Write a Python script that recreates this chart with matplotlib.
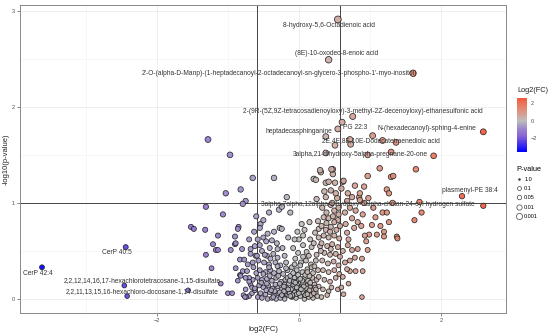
import numpy as np
import matplotlib
matplotlib.use('Agg')
import matplotlib.pyplot as plt
from matplotlib.colors import LinearSegmentedColormap, Normalize
from matplotlib.lines import Line2D

plt.rcParams['font.family'] = ['Liberation Sans', 'DejaVu Sans']

# %% data: log2 fold change and -log10(p) per group
left_fc = [-3.62, -2.44, -2.46, -2.42, -1.56, -1.28, -0.97, -0.65, -1.03, -0.82, -0.75, -0.79, -1.31,
           -1.07, -1.52, -1.48, -1.32, -0.85, -0.86, -1.14, -0.9, -1.21, -1.17, -1.14, -1.31, -0.96,
           -0.9, -0.8, -1.23, -0.89, -0.83, -0.77, -0.79, -0.83, -1.1, -0.86, -0.73, -1.0, -0.94, -0.7,
           -0.66, -0.62, -0.75, -0.68, -0.65, -0.7, -0.72, -0.65, -0.68, -0.62, -0.7, -0.63, -0.74,
           -0.78, -0.66, -0.6, -0.64, -0.61, -0.89, -0.68, -0.59, -0.82, -0.75, -0.7, -0.62, -0.76]
left_nlp = [0.33, 0.54, 0.14, 0.03, 0.09, 1.66, 1.5, 1.26, 1.1, 1.14, 1.02, 0.99, 0.96,
            0.88, 0.75, 0.73, 0.72, 0.75, 0.73, 0.66, 0.65, 0.57, 0.51, 0.51, 0.46, 0.51,
            0.57, 0.52, 0.32, 0.32, 0.41, 0.41, 0.29, 0.25, 0.16, 0.19, 0.29, 0.06, 0.06, 0.03,
            0.06, 0.09, 0.1, 0.15, 0.2, 0.22, 0.36, 0.38, 0.47, 0.55, 0.62, 0.7, 0.02,
            0.04, 0.12, 0.27, 0.33, 0.45, 0.58, 0.52, 0.45, 0.24, 0.22, 0.18, 0.11, 0.02]

core_fc = [-0.35, -0.17, -0.28, -0.24, -0.54, -0.27, -0.5, -0.55, -0.24, -0.5, -0.46, -0.38, -0.31,
           -0.41, -0.23, -0.55, -0.58, -0.52, -0.45, -0.36, -0.3, -0.2, -0.57, -0.49, -0.42, -0.33,
           -0.26, -0.18, -0.55, -0.47, -0.4, -0.35, -0.28, -0.22, -0.16, -0.58, -0.52, -0.45, -0.38,
           -0.32, -0.25, -0.19, -0.56, -0.5, -0.43, -0.37, -0.3, -0.24, -0.18, -0.54, -0.47, -0.41,
           -0.35, -0.29, -0.23, -0.17, -0.58, -0.52, -0.44, -0.38, -0.32, -0.26, -0.2, -0.44, -0.35,
           -0.6, -0.42, -0.15, -0.3, -0.48, -0.4, -0.27, -0.21, -0.34, -0.46, -0.53, -0.41, -0.29,
           -0.2, -0.16,
           0.04, 0.15, 0.27, 0.08, 0.23, 0.21, 0.25, -0.08, -0.01, 0.06, 0.11, 0.18, 0.25, -0.12,
           0.0, -0.05, 0.03, 0.1, 0.17, 0.24, -0.1, -0.03, 0.05, 0.12, 0.2, 0.27, -0.12, -0.06, 0.0,
           0.07, 0.13, 0.19, 0.25, -0.14, -0.08, -0.02, 0.04, 0.1, 0.16, 0.22, 0.28, -0.12, -0.06,
           0.0, 0.06, 0.12, 0.18, 0.24, -0.1, -0.04, 0.02, 0.08, 0.14, 0.2, 0.26, -0.13, -0.07,
           -0.01, 0.09, 0.15, 0.03, 0.21, -0.09, 0.11, 0.06, -0.03, 0.16, 0.28, 0.02, 0.14, 0.21,
           0.28, -0.06, 0.06, 0.16, -0.02, 0.3, 0.28, -0.15, -0.11, 0.01, 0.09, 0.19, -0.05, 0.13,
           0.23, -0.09, 0.07, 0.17, -0.13, 0.05,
           -0.45, -0.39, -0.33, -0.27, -0.21, -0.15, -0.09, -0.03, 0.03, 0.09, 0.15, 0.21, -0.36,
           -0.24, -0.12, 0.0, 0.12, 0.24, -0.3, -0.18, -0.06, 0.06, 0.18, -0.5, -0.42, -0.08, 0.02,
           0.12, 0.22]
core_nlp = [1.26, 1.06, 0.93, 0.96, 0.78, 0.74, 0.82, 0.74, 0.73, 0.64, 0.6, 0.61, 0.58,
            0.53, 0.53, 0.56, 0.62, 0.5, 0.45, 0.47, 0.43, 0.45, 0.4, 0.38, 0.36, 0.38,
            0.35, 0.38, 0.3, 0.28, 0.3, 0.27, 0.29, 0.26, 0.3, 0.22, 0.2, 0.21, 0.19,
            0.22, 0.18, 0.2, 0.14, 0.12, 0.14, 0.11, 0.13, 0.1, 0.12, 0.06, 0.05, 0.07,
            0.04, 0.06, 0.03, 0.05, 0.02, 0.01, 0.0, 0.01, 0.0, 0.01, 0.0, 0.68, 0.7,
            0.86, 0.9, 0.64, 0.52, 0.46, 0.42, 0.16, 0.08, 0.08, 0.09, 0.17, 0.24, 0.24,
            0.15, 0.22,
            0.78, 0.8, 0.81, 0.72, 0.69, 1.25, 1.04, 0.53, 0.48, 0.56, 0.49, 0.54, 0.46, 0.9,
            0.62, 0.42, 0.38, 0.4, 0.36, 0.4, 0.33, 0.3, 0.28, 0.31, 0.27, 0.3, 0.24, 0.22, 0.2,
            0.21, 0.19, 0.22, 0.2, 0.16, 0.14, 0.15, 0.13, 0.14, 0.12, 0.15, 0.13, 0.08, 0.07,
            0.09, 0.06, 0.08, 0.05, 0.07, 0.02, 0.01, 0.03, 0.0, 0.02, 0.01, 0.03, 0.19, 0.18,
            0.25, 0.25, 0.24, 0.17, 0.1, 0.11, 0.11, 0.16, 0.05, 0.17, 0.23, 0.35, 0.45, 0.58,
            0.64, 0.62, 0.66, 0.62, 0.7, 0.55, 0.73, 0.04, 0.1, 0.11, 0.04, 0.09, 0.17, 0.07,
            0.12, 0.03, 0.13, 0.04, 0.06, 0.19,
            0.16, 0.09, 0.15, 0.07, 0.13, 0.1, 0.04, 0.12, 0.1, 0.04, 0.09, 0.06, 0.02,
            0.04, 0.03, 0.06, 0.05, 0.1, 0.34, 0.32, 0.36, 0.44, 0.33, 0.26, 0.33, 0.27, 0.21,
            0.28, 0.34]

right_fc = [0.31, 0.38, 0.48, 0.48, 0.51, 0.45, 0.38, 0.54, 0.42, 0.24, 0.39, 0.33, 0.45, 0.5,
            0.56, 0.35, 0.42, 0.48, 0.55, 0.32, 0.38, 0.45, 0.53, 0.58, 0.35, 0.42, 0.5, 0.57,
            0.32, 0.4, 0.47, 0.55, 0.36, 0.44, 0.52, 0.58, 0.33, 0.41, 0.49, 0.56, 0.34, 0.42,
            0.5, 0.36, 0.44, 0.52, 0.34, 0.42, 0.32, 0.4, 0.46, 0.57, 0.55, 0.47, 0.52, 0.56,
            0.36, 0.44, 0.5, 0.39, 0.31, 0.45,
            0.61, 0.76, 0.55, 0.38, 0.51, 0.72, 0.73, 1.04, 1.18, 1.37, 1.3, 0.97, 0.38, 1.9,
            0.46, 1.14, 1.65, 0.3, 2.6, 0.97, 1.3, 1.33, 0.62, 0.92, 0.79, 0.63, 1.24, 1.27,
            0.75, 0.85, 0.86, 1.32, 1.7, 2.3, 2.6, 0.69, 0.6, 0.86, 1.73, 1.63, 1.18, 1.24,
            1.27, 1.15, 1.2, 1.1, 1.2, 1.38, 1.39, 1.03, 0.99, 0.93, 0.83, 0.97, 0.83, 0.79,
            0.89, 0.72, 0.8, 0.9, 0.72, 0.68, 0.62, 0.89, 0.69, 0.75, 0.68, 0.65, 0.72, 0.8,
            0.9, 0.75, 0.66, 0.78, 0.88, 0.7, 0.62, 0.65, 0.6, 0.63, 0.7, 0.92, 1.05, 0.98,
            0.68, 1.08, 0.95]
right_nlp = [1.32, 1.21, 1.3, 1.35, 1.21, 1.13, 1.06, 1.05, 1.22, 1.24, 0.9, 0.95, 0.98, 0.92,
             0.95, 0.85, 0.84, 0.86, 0.82, 0.76, 0.72, 0.75, 0.72, 0.76, 0.66, 0.64, 0.66, 0.63,
             0.58, 0.55, 0.57, 0.54, 0.48, 0.46, 0.47, 0.44, 0.4, 0.37, 0.39, 0.35, 0.3, 0.28,
             0.3, 0.2, 0.18, 0.22, 0.1, 0.08, 0.02, 0.04, 0.12, 0.26, 0.1, 1.0, 1.1, 0.88,
             1.12, 0.7, 0.8, 0.79, 0.5, 0.52,
             1.84, 1.9, 1.77, 1.69, 1.6, 1.66, 1.61, 1.7, 1.65, 1.63, 1.53, 1.5, 1.52, 1.49,
             1.35, 1.36, 1.35, 1.34, 1.74, 1.28, 1.27, 1.28, 1.22, 1.17, 1.18, 1.23, 1.14, 1.1,
             1.06, 1.06, 1.03, 1.0, 1.01, 1.07, 0.97, 1.1, 1.15, 1.1, 0.9, 0.82, 0.9, 0.9,
             0.8, 0.76, 0.7, 0.67, 0.65, 0.65, 0.63, 0.77, 0.67, 0.66, 0.8, 0.51, 0.52, 0.43,
             0.42, 0.4, 0.29, 0.29, 0.29, 0.31, 0.23, 0.02, 0.56, 0.51, 0.69, 0.9, 0.95, 0.92,
             0.88, 0.84, 0.78, 0.74, 0.76, 0.62, 0.5, 0.38, 0.12, 0.05, 0.16, 1.0, 0.95, 1.05,
             1.02, 0.85, 0.6]

top_fc = [0.55, 0.42, 1.61]
top_nlp = [2.91, 2.49, 2.35]

# labelled metabolites and where ggrepel put their text
label_names = ['8-hydroxy-5,6-Octadienoic acid',
               '(8E)-10-oxodec-8-enoic acid',
               "2'-O-(alpha-D-Manp)-(1-heptadecanoyl-2-octadecanoyl-sn-glycero-3-phospho-1'-myo-inositol)",
               '2-(9R-(5Z,9Z-tetracosadienoyloxy)-3-methyl-2Z-decenoyloxy)-ethanesulfonic acid',
               'heptadecasphinganine',
               'PG 22:3',
               'N-(hexadecanoyl)-sphing-4-enine',
               '2E,4E,8E,10E-Dodecatetraenedioic acid',
               '3alpha,21-dihydroxy-5alpha-pregnane-20-one',
               'plasmenyl-PE 38:4',
               '3alpha,7alpha,12alpha-trihydroxy-5alpha-cholan-24-oyl hydrogen sulfate',
               'CerP 40:5',
               'CerP 42:4',
               '2,2,12,14,16,17-hexachlorotetracosane-1,15-disulfate',
               '2,2,11,13,15,16-hexachloro-docosane-1,14-disulfate']
label_x = [0.42, 0.535, -0.28, 0.9, 0.0, 0.79, 1.8, 1.16, 0.86, 2.41, 0.97, -2.56, -3.68, -2.2, -2.21]
label_y = [2.85, 2.55, 2.35, 1.95, 1.74, 1.78, 1.77, 1.65, 1.5, 1.125, 0.98, 0.48, 0.27, 0.19, 0.08]

p_breaks = [1.0, 0.1, 0.05, 0.01, 0.001]
p_break_labels = ['1.0', '0.1', '0.05', '0.01', '0.001']

# %% combine
fc = np.array(left_fc + core_fc + right_fc + top_fc)
nlp = np.array(left_nlp + core_nlp + right_nlp + top_nlp)


def px_size(v):
    # marker diameter in px grows with -log10(p)
    return 4.6 + 0.75 * np.asarray(v)


cmap = LinearSegmentedColormap.from_list('fc', [
    (0.0, '#0000FF'), (0.25, '#8763D6'), (0.375, '#9E88CC'), (0.5, '#BEBEBE'),
    (0.625, '#D99A8A'), (0.75, '#E97A60'), (0.875, '#F45236'), (1.0, '#FF0000')])
lim = np.abs(fc).max()
norm = Normalize(-lim, lim)

fig = plt.figure(figsize=(5.5, 3.35), dpi=100)
ax = fig.add_axes([20 / 550, 22 / 335, 486 / 550, 308 / 335])

ax.scatter(fc, nlp, s=(px_size(nlp) * 0.72) ** 2, c=fc, cmap=cmap, norm=norm,
           edgecolors='#1a1a1a', linewidths=0.55, alpha=0.92, zorder=3)

ax.axvline(-0.585, color='#444444', lw=0.7, zorder=2)
ax.axvline(0.585, color='#444444', lw=0.7, zorder=2)
ax.axhline(1, color='#444444', lw=0.7, zorder=2)

for name, x, y in zip(label_names, label_x, label_y):
    ax.text(x, y, name, fontsize=4.8, color='#333333', ha='center', va='center', zorder=4)

ax.set_xlim(-3.93, 2.92)
ax.set_ylim(-0.146, 3.06)
ax.set_xticks([-2, 0, 2])
ax.set_xticks([-3, -1, 1], minor=True)
ax.set_yticks([0, 1, 2, 3])
ax.set_yticks([0.5, 1.5, 2.5], minor=True)
ax.grid(which='major', color='#EBEBEB', lw=0.6, zorder=0)
ax.grid(which='minor', color='#F2F2F2', lw=0.4, zorder=0)
ax.tick_params(which='major', length=2, width=0.5, color='#555555', labelsize=4, labelcolor='#4D4D4D', pad=1.5)
ax.tick_params(which='minor', length=0)
for sp in ax.spines.values():
    sp.set_color('#888888')
    sp.set_linewidth(0.7)
ax.set_xlabel('log2(FC)', fontsize=5.5, color='#222222', labelpad=2)
ax.set_ylabel('-log10(p-value)', fontsize=5.5, color='#222222', labelpad=2)

# colour legend
cax = fig.add_axes([517 / 550, 1 - 152 / 335, 10 / 550, 54 / 335])
sm = plt.cm.ScalarMappable(norm=Normalize(fc.min(), fc.max()),
                           cmap=LinearSegmentedColormap.from_list(
                               'sub', cmap(np.linspace(0, norm(fc.max()), 64))))
cb = fig.colorbar(sm, cax=cax, ticks=[-2, 0, 2])
cb.outline.set_visible(False)
cb.ax.tick_params(labelsize=4, length=1.5, color='white', labelcolor='#4D4D4D', pad=1.5)
fig.text(517 / 550, 1 - 91 / 335, 'Log2(FC)', fontsize=5.3, color='#222222', va='center')

# p-value size legend
handles = [Line2D([], [], ls='', marker='o', markerfacecolor='none', markeredgecolor='#444444',
                  markeredgewidth=0.5, markersize=d * 0.72)
           for d in [1.8, 4.0, 4.5, 5.3, 6.2]]
handles[0].set_markerfacecolor('#444444')
leg = fig.legend(handles, p_break_labels, title='P-value', loc='upper left',
                 bbox_to_anchor=(512 / 550, 1 - 162 / 335), frameon=False, fontsize=4,
                 title_fontsize=5.3, handlelength=1.2, handletextpad=0.3, labelspacing=0.75,
                 borderpad=0.2)
leg._legend_box.align = 'left'

fig.savefig('out.png', dpi=100)
